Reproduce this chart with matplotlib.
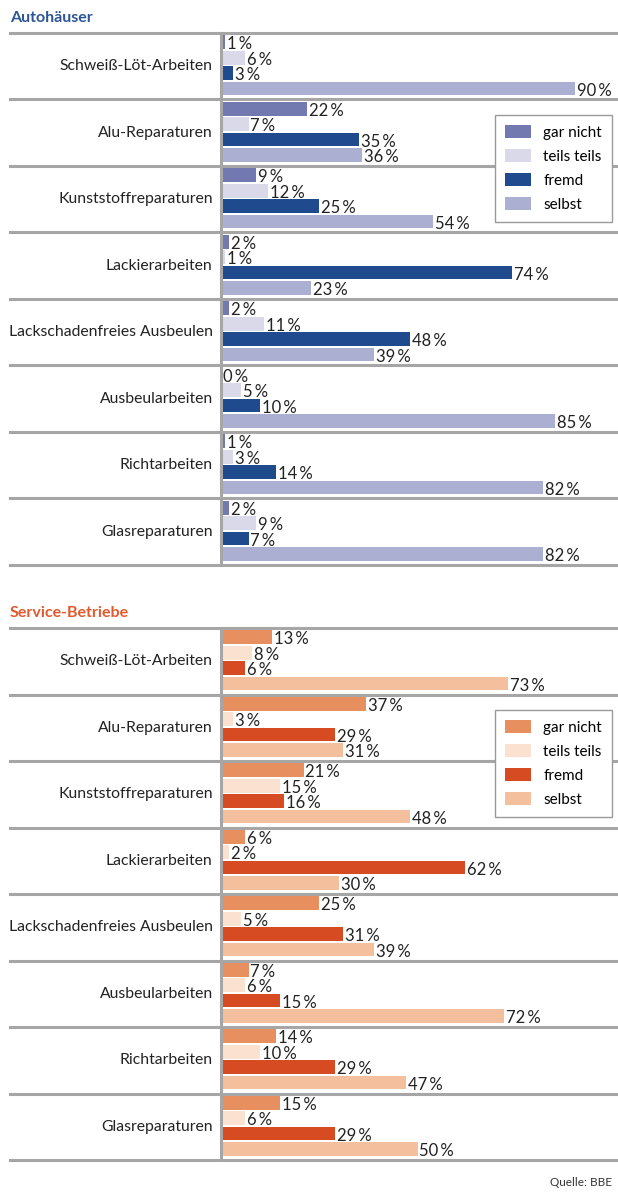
"""Reparaturarbeiten: Autohäuser vs. Service-Betriebe
"""

import matplotlib
matplotlib.use("Agg")
import matplotlib.pyplot as plt
from matplotlib.patches import Patch

categories = ["Schweiß-Löt-Arbeiten", "Alu-Reparaturen", "Kunststoffreparaturen",
              "Lackierarbeiten", "Lackschadenfreies Ausbeulen", "Ausbeularbeiten",
              "Richtarbeiten", "Glasreparaturen"]
series = ["gar nicht", "teils teils", "fremd", "selbst"]

# Autohäuser
auto_gar_nicht = [1, 22, 9, 2, 2, 0, 1, 2]
auto_teils = [6, 7, 12, 1, 11, 5, 3, 9]
auto_fremd = [3, 35, 25, 74, 48, 10, 14, 7]
auto_selbst = [90, 36, 54, 23, 39, 85, 82, 82]

# Service-Betriebe
serv_gar_nicht = [13, 37, 21, 6, 25, 7, 14, 15]
serv_teils = [8, 3, 15, 2, 5, 6, 10, 6]
serv_fremd = [6, 29, 16, 62, 31, 15, 29, 29]
serv_selbst = [73, 31, 48, 30, 39, 72, 47, 50]

auto_colors = ["#7279b1", "#d9d9e9", "#1f4b8e", "#abb0d2"]
serv_colors = ["#e88f5f", "#fbe1d0", "#d64b22", "#f4bf9d"]

FONT = "Lato"
plt.rcParams["font.family"] = [FONT, "DejaVu Sans"]

W, H = 618, 1192
fig = plt.figure(figsize=(W / 100, H / 100), dpi=100)

GRID = "#a6a6a6"


def section(top_px, title, title_color, data, colors):
    x0, x1 = 221, 618
    y1 = top_px + 532
    ax = fig.add_axes([x0 / W, 1 - y1 / H, (x1 - x0) / W, 532 / H])
    xmax = (x1 - x0) / 3.93
    ax.set_xlim(0, xmax)
    ax.set_ylim(8, 0)
    ax.axis("off")

    for j, vals in enumerate(data):
        ys = [i + 0.14 + j * 0.232 for i in range(len(vals))]
        ax.barh(ys, vals, height=0.205, color=colors[j], label=series[j])
        for y, v in zip(ys, vals):
            ax.text(v + 0.5, y + 0.03, f"{v}\u2009%", va="center", ha="left",
                    fontsize=12, color="#222222")

    for i, cat in enumerate(categories):
        ax.text(-2.1, i + 0.5, cat, ha="right", va="center",
                fontsize=11.3, color="#222222")

    lx = (10 - x0) / (x1 - x0)
    for k in range(9):
        ax.axhline(k, xmin=lx, xmax=1, color=GRID, lw=2.2, clip_on=False, zorder=0)
    ax.axvline(0, color=GRID, lw=2.2, clip_on=False, zorder=3)

    fig.text(10 / W, 1 - (top_px - 15) / H, title, color=title_color,
             fontsize=11.5, fontweight="bold", va="center", ha="left")

    handles = [Patch(facecolor=c) for c in colors]
    leg = ax.legend(handles, series, loc="upper right",
                    bbox_to_anchor=(612 / W, 1 - (top_px + 82) / H),
                    bbox_transform=fig.transFigure, fontsize=11,
                    frameon=True, fancybox=False, framealpha=1, borderaxespad=0,
                    edgecolor="#9a9a9a", handlelength=1.7, handleheight=0.9,
                    labelspacing=0.62, borderpad=0.65, handletextpad=0.8)
    leg.get_frame().set_linewidth(1.0)
    leg.set_zorder(10)
    return ax


section(33, "Autohäuser", "#2d5597",
        [auto_gar_nicht, auto_teils, auto_fremd, auto_selbst], auto_colors)
section(628, "Service-Betriebe", "#e05a2d",
        [serv_gar_nicht, serv_teils, serv_fremd, serv_selbst], serv_colors)

fig.text(612 / W, 1 - 1183 / H, "Quelle: BBE", ha="right", va="center",
         fontsize=8.5, color="#333333")

fig.savefig("out.png", dpi=100)
